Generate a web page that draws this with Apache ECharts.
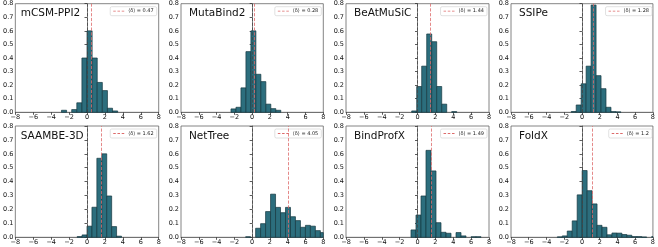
<!DOCTYPE html>
<html>
<head>
<meta charset="utf-8">
<script src="https://cdn.jsdelivr.net/npm/echarts@6/dist/echarts.min.js"></script>
<style>
html, body { margin: 0; padding: 0; background: #fff; }
#chart { width: 658px; height: 247px; }
</style>
</head>
<body>
<div id="chart"></div>
<script>
// panel names and mean shift <δ>
var names = ['mCSM-PPI2', 'MutaBind2', 'BeAtMuSiC', 'SSIPe', 'SAAMBE-3D', 'NetTree', 'BindProfX', 'FoldX'];
var means = [0.47, 0.28, 1.44, 1.28, 1.62, 4.05, 1.49, 1.2];

// first bin edge and bin width of each histogram
var binStart = [-2.85, -2.38, -0.65, -1.21, -1.1, -0.73, -0.73, -2.78];
var binWidth = [0.57, 0.56, 0.56, 0.56, 0.55, 0.56, 0.56, 0.56];

// bin heights (density)
var mcsmHist = [0.015, 0, 0.02, 0.07, 0.4, 0.6, 0.4, 0.22, 0.16, 0.03, 0.01];
var mutaHist = [0.025, 0.037, 0.18, 0.447, 0.6, 0.28, 0.226, 0.06, 0.027, 0.015];
var beatHist = [0.01, 0.19, 0.34, 0.577, 0.52, 0.19, 0.06, 0, 0.005];
var ssipeHist = [0.006, 0.054, 0.21, 0.34, 0.79, 0.27, 0.174, 0.037, 0.005, 0.003];
var saambeHist = [0.005, 0.017, 0.08, 0.216, 0.568, 0.6, 0.297, 0.077, 0.008];
var nettreeHist = [0.004, 0, 0.065, 0.098, 0.185, 0.31, 0.215, 0.177, 0.215, 0.148, 0.12, 0.072, 0.086, 0.08, 0.048, 0.034];
var bindHist = [0.053, 0.16, 0.297, 0.625, 0.477, 0.105, 0.036, 0.029, 0, 0.034, 0.01, 0, 0.004, 0.004];
var foldxHist = [0.003, 0.01, 0.045, 0.118, 0.305, 0.48, 0.335, 0.24, 0.086, 0.072, 0.018, 0.031, 0.03, 0.02, 0.015, 0.005, 0.005, 0.002, 0, 0.005];
var hists = [mcsmHist, mutaHist, beatHist, ssipeHist, saambeHist, nettreeHist, bindHist, foldxHist];

// axes
var xMin = -8, xMax = 8, xStep = 2;
var yMin = 0, yMax = 0.8, yStep = 0.1;

// panel layout (px)
var colLeft = [12.7, 181, 346, 511];
var colRight = [158.7, 323.3, 489, 654];
var rowTop = [3.7, 126];
var rowBottom = [112.3, 237.3];

var W = 658;
var font = 'DejaVu Sans';
var barFill = '#2c6e7d';
var barEdge = '#163840';
var meanColor = '#dd6b6b';
var zeroColor = '#444';
// short dashed stroke for the legend key
var dashIcon = 'path://M0,0H3V1H0Z M5,0H8V1H5Z M10,0H13V1H10Z';

var chart = echarts.init(document.getElementById('chart'), null, {renderer: 'canvas'});

var grids = [], xAxes = [], yAxes = [], series = [], titles = [], legends = [];

names.forEach(function (name, i) {
    var c = i % 4, r = Math.floor(i / 4);
    var gl = colLeft[c], gr = colRight[c], gt = rowTop[r], gb = rowBottom[r];
    grids.push({
        left: gl, top: gt, width: gr - gl, height: gb - gt,
        show: true, borderColor: '#666', borderWidth: 0.8, backgroundColor: 'transparent'
    });
    xAxes.push({
        gridIndex: i, type: 'value', min: xMin, max: xMax, interval: xStep,
        axisLine: {show: true, onZero: false, lineStyle: {color: '#666', width: 0.8}},
        axisTick: {show: true, length: 2.5, lineStyle: {color: '#333', width: 0.8}},
        splitLine: {show: false},
        axisLabel: {
            fontSize: 6.5, fontFamily: font, color: '#111', margin: 2,
            formatter: function (v) { return String(v).replace('-', '\u2212'); }
        }
    });
    yAxes.push({
        gridIndex: i, type: 'value', min: yMin, max: yMax, interval: yStep,
        axisLine: {show: true, lineStyle: {color: '#666', width: 0.8}},
        axisTick: {show: true, length: 2.5, lineStyle: {color: '#333', width: 0.8}},
        splitLine: {show: false},
        axisLabel: {
            fontSize: 6.5, fontFamily: font, color: '#111', margin: 2,
            formatter: function (v) { return v.toFixed(1); }
        }
    });

    var bins = [];
    hists[i].forEach(function (h, k) {
        if (h > 0) {
            var x0 = binStart[i] + k * binWidth[i];
            bins.push([x0, x0 + binWidth[i], h]);
        }
    });

    // dashed reference lines (behind the bars)
    var label = '\u27e8\u03b4\u27e9 = ' + means[i];
    series.push({
        type: 'line', name: label, xAxisIndex: i, yAxisIndex: i, data: [],
        symbol: 'none', z: 1, color: meanColor,
        lineStyle: {type: 'dashed', width: 0.9, color: meanColor},
        markLine: {
            silent: true, symbol: ['none', 'none'], label: {show: false}, animation: false,
            data: [
                {xAxis: 0, lineStyle: {color: zeroColor, type: 'dashed', width: 0.8}},
                {xAxis: means[i], lineStyle: {color: meanColor, type: 'dashed', width: 0.8}}
            ]
        }
    });

    series.push({
        type: 'custom', xAxisIndex: i, yAxisIndex: i, z: 3,
        data: bins, encode: {x: [0, 1], y: 2},
        renderItem: function (params, api) {
            var p0 = api.coord([api.value(0), api.value(2)]);
            var p1 = api.coord([api.value(1), 0]);
            var cs = params.coordSys;
            var shape = echarts.graphic.clipRectByRect(
                {x: p0[0], y: p0[1], width: p1[0] - p0[0], height: p1[1] - p0[1]},
                {x: cs.x, y: cs.y, width: cs.width, height: cs.height}
            );
            if (!shape) return;
            return {type: 'rect', shape: shape, style: {fill: barFill, stroke: barEdge, lineWidth: 0.7}};
        }
    });

    titles.push({
        text: name, left: gl + 8, top: gt + 4.5,
        textStyle: {fontSize: 10.5, fontWeight: 'normal', fontFamily: font, color: '#111'},
        padding: 0
    });

    legends.push({
        data: [{name: label, icon: dashIcon, itemStyle: {color: meanColor}}],
        right: W - gr + 2, top: gt + 3,
        itemWidth: 11, itemHeight: 1.3, itemGap: 2, selectedMode: false,
        itemStyle: {color: meanColor, borderWidth: 0},
        textStyle: {fontSize: 5, fontFamily: font, color: '#222', padding: [0, 0, 0, -1]},
        borderColor: '#ccc', borderWidth: 0.6, borderRadius: 1.5, padding: [2, 3, 2, 3],
        backgroundColor: 'rgba(255,255,255,0.8)'
    });
});

chart.setOption({
    animation: false,
    backgroundColor: '#fff',
    title: titles,
    legend: legends,
    grid: grids,
    xAxis: xAxes,
    yAxis: yAxes,
    series: series
});
</script>
</body>
</html>
